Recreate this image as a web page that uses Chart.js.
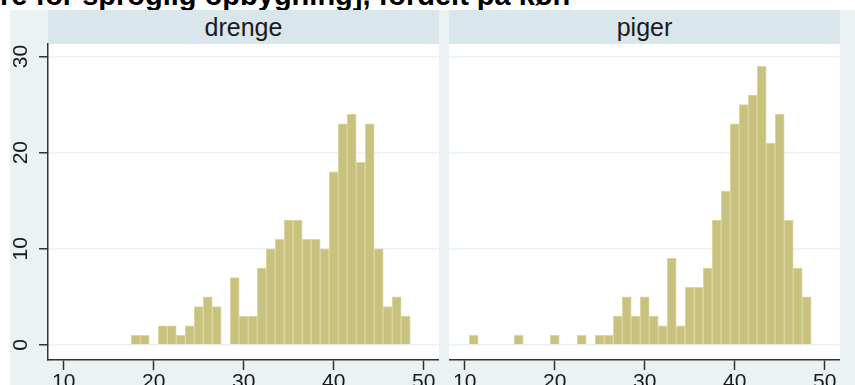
<!DOCTYPE html>
<html>
<head>
<meta charset="utf-8">
<script src="https://cdn.jsdelivr.net/npm/chart.js@4"></script>
<style>
  body { margin: 0; background: #fff; width: 855px; height: 385px; overflow: hidden; position: relative; font-family: "Liberation Sans", Arial, sans-serif; }
  #graphRegion { position: absolute; left: 10px; top: 10px; width: 845px; height: 375px; background: #eaf2f3; }
  .strip { position: absolute; top: 10px; height: 34px; width: 391px; background: #d9e6eb; color: #1a1a1a; text-align: center; font-size: 25px; line-height: 34px; }
  #title { position: absolute; left: 0; top: -19px; font-size: 29px; line-height: 29px; font-weight: bold; color: #000; white-space: nowrap; }
  canvas { position: absolute; top: 0; }
</style>
</head>
<body>
<div id="graphRegion"></div>
<div id="title">re for sproglig opbygning], fordelt på køn</div>
<div class="strip" style="left:48px">drenge</div>
<div class="strip" style="left:449px">piger</div>
<canvas id="boysChart" width="439" height="385" style="left:0"></canvas>
<canvas id="girlsChart" width="391" height="385" style="left:449px"></canvas>
<script>
// bin centres (bin width 1) and frequencies
const boysBins   = [18, 19, 20, 21, 22, 23, 24, 25, 26, 27, 28, 29, 30, 31, 32, 33, 34, 35, 36, 37, 38, 39, 40, 41, 42, 43, 44, 45, 46, 47, 48];
const boysCounts = [ 1,  1,  0,  2,  2,  1,  2,  4,  5,  4,  0,  7,  3,  3,  8, 10, 11, 13, 13, 11, 11, 10, 18, 23, 24, 19, 23, 10,  4,  5,  3];

const girlsBins   = [11, 16, 20, 23, 25, 26, 27, 28, 29, 30, 31, 32, 33, 34, 35, 36, 37, 38, 39, 40, 41, 42, 43, 44, 45, 46, 47, 48];
const girlsCounts = [ 1,  1,  1,  1,  1,  1,  3,  5,  3,  5,  3,  2,  9,  2,  6,  6,  8, 13, 16, 23, 25, 26, 29, 21, 24, 13,  8,  5];

const xTicks = [10, 20, 30, 40, 50];
const yTicks = [0, 10, 20, 30];

const xMin = 8.25, xMax = 51.7;
const yMin = -1.56, yMax = 31.3;

const barFill = '#c9c27f';
const barEdge = '#ddd7a4';
const axisColor = '#333';
const gridColor = '#e9f1f3';
const fontFamily = '"Liberation Sans", Arial, sans-serif';

function toPoints(bins, counts) {
  const pts = [];
  for (let i = 0; i < bins.length; i++) {
    if (counts[i] > 0) pts.push({ x: bins[i], y: counts[i] });
  }
  return pts;
}

// white plot region behind the bars
const plotBackground = {
  id: 'plotBackground',
  beforeDraw(chart) {
    const a = chart.chartArea;
    const ctx = chart.ctx;
    ctx.save();
    ctx.fillStyle = '#fff';
    ctx.fillRect(a.left, a.top, a.right - a.left, a.bottom - a.top);
    ctx.restore();
  }
};

// y labels are drawn turned on their side
const sideLabels = {
  id: 'sideLabels',
  afterDraw(chart) {
    const ctx = chart.ctx;
    const y = chart.scales.y;
    ctx.save();
    ctx.fillStyle = '#1a1a1a';
    ctx.font = '21px ' + fontFamily;
    ctx.textAlign = 'center';
    ctx.textBaseline = 'alphabetic';
    for (const v of yTicks) {
      ctx.save();
      ctx.translate(27, y.getPixelForValue(v));
      ctx.rotate(-Math.PI / 2);
      ctx.fillText(String(v), 0, 0);
      ctx.restore();
    }
    ctx.restore();
  }
};

function makeChart(id, bins, counts, withYAxis) {
  const ctx = document.getElementById(id).getContext('2d');
  return new Chart(ctx, {
    type: 'bar',
    data: {
      datasets: [{
        data: toPoints(bins, counts),
        backgroundColor: barFill,
        borderColor: barEdge,
        borderWidth: 1,
        barPercentage: 1,
        categoryPercentage: 1
      }]
    },
    options: {
      responsive: false,
      animation: false,
      devicePixelRatio: 1,
      layout: { padding: { top: 44, left: 0, right: 0, bottom: 0 } },
      plugins: { legend: { display: false }, tooltip: { enabled: false } },
      scales: {
        x: {
          type: 'linear',
          min: xMin,
          max: xMax,
          offset: false,
          afterBuildTicks: (s) => { s.ticks = xTicks.map(v => ({ value: v })); },
          afterFit: (s) => { s.height = 25; },
          grid: { offset: false, drawOnChartArea: false, drawTicks: true, tickLength: 10, tickColor: axisColor, tickWidth: 1.5 },
          border: { display: true, color: axisColor, width: 1.5 },
          ticks: { color: '#1a1a1a', padding: 0, maxRotation: 0, font: { family: fontFamily, size: 21 } }
        },
        y: {
          min: yMin,
          max: yMax,
          afterBuildTicks: (s) => { s.ticks = yTicks.map(v => ({ value: v })); },
          afterFit: (s) => { s.width = withYAxis ? 48 : 0; },
          grid: {
            color: gridColor,
            lineWidth: 1.5,
            drawTicks: withYAxis,
            tickLength: 9,
            tickColor: axisColor,
            tickWidth: 1.5
          },
          border: { display: withYAxis, color: axisColor, width: 1.5 },
          ticks: { display: false }
        }
      }
    },
    plugins: withYAxis ? [plotBackground, sideLabels] : [plotBackground]
  });
}

makeChart('boysChart', boysBins, boysCounts, true);
makeChart('girlsChart', girlsBins, girlsCounts, false);
</script>
</body>
</html>
